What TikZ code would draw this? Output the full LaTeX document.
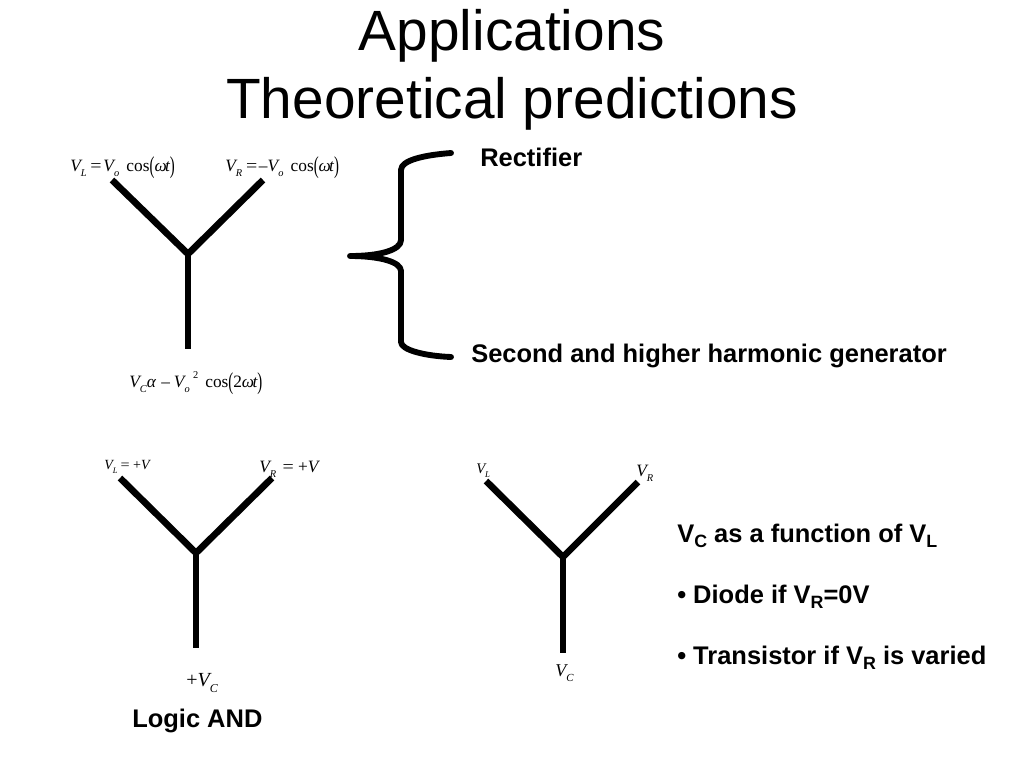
\documentclass[tikz,border=0pt]{standalone}
\usepackage{fontspec}
\setmainfont{Liberation Sans}
\newfontfamily\tms{Liberation Serif}
\newcommand{\iv}[1]{{\itshape #1}}
\newcommand{\lo}[2][0.6]{\raisebox{-0.3em}{\fontsize{#1em}{#1em}\selectfont\itshape #2}}
\newcommand{\bsub}[1]{\raisebox{-0.22em}{\fontsize{0.7em}{0.7em}\selectfont #1}}
\newcommand{\bp}[1]{\raisebox{-0.14em}{\scalebox{0.85}[1.4]{#1}}}
\newcommand{\wt}{\iv{ω\kern-0.1em t}}
\newcommand{\eqs}{\kern0.22em\scalebox{1.15}[1]{=}\kern0.1em}
\tikzset{
 x=0.75pt,y=-0.75pt,
 wire/.style={line width=5pt,line cap=butt,line join=miter},
 brace/.style={line width=4.4pt,line cap=round,line join=round},
 title/.style={font=\fontsize{42.6pt}{48pt}\selectfont,inner sep=0pt,anchor=base},
 lab/.style={font=\fontsize{19.1pt}{22pt}\selectfont\bfseries,inner sep=0pt,anchor=base west},
 eq/.style={font=\tms\fontsize{13pt}{15pt}\selectfont,inner sep=0pt,anchor=base west},
}
\begin{document}
\begin{tikzpicture}
\useasboundingbox (0,0) rectangle (1024,768);
\node[title] (t1) at (512,50) {Applications};
\node[title] (t2) at (512,118) {Theoretical predictions};
% top Y
\coordinate (a1) at (112,180); \coordinate (a2) at (263,180); \coordinate (a3) at (188,349); \coordinate (ac) at (188,254);
\draw[wire] (a1) -- (ac) -- (a2); \draw[wire] (ac) -- (a3);
\node[eq] (e1) at (70,171) {\iv{V}\lo{L}\eqs\iv{V}\lo{o}\kern0.42em cos\bp{(}\wt\bp{)}};
\node[eq] (e2) at (225,171) {\iv{V}\lo{R}\eqs –\iv{V}\lo{o}\kern0.42em cos\bp{(}\wt\bp{)}};
\node[eq] (e3) at (129,387) {\iv{V}\lo{C}\iv{α}\kern0.32em–\kern0.22em\iv{V}\lo{o}\kern0.2em\raisebox{0.5em}{\fontsize{0.6em}{0.6em}\selectfont 2}\kern0.4em cos\bp{(}2\wt\bp{)}};
% brace
\coordinate (b0) at (350,256);
\coordinate (b1) at (451,153);
\coordinate (b2) at (451,357);
\draw[brace] (b1) .. controls (425,155) and (401,160) .. (401,170) -- (401,240) .. controls (401,250) and (380,256) .. (b0) .. controls (380,256) and (401,262) .. (401,271) -- (401,342) .. controls (401,350) and (425,356) .. (b2);
\node[lab] (r) at (480,166) {Rectifier};
\node[lab] (s) at (471,362) {Second and higher harmonic generator};
% lower left Y
\coordinate (c1) at (120,478); \coordinate (c2) at (272,478); \coordinate (c3) at (196,648); \coordinate (cc) at (196,553);
\draw[wire] (c1) -- (cc) -- (c2); \draw[wire] (cc) -- (c3);
\node[eq,font=\tms\fontsize{10.5pt}{12pt}\selectfont] (f1) at (104,469) {\iv{V}\lo{L}\eqs\kern0.15em+\iv{V}};
\node[eq] (f2) at (259,472) {\iv{V}\lo{R}\kern0.15em\eqs\kern0.15em+\iv{V}};
\node[eq,font=\tms\fontsize{15pt}{17pt}\selectfont] (f3) at (186,686) {+\iv{V}\lo{C}};
\node[lab] (l) at (132,727) {Logic AND};
% lower right Y
\coordinate (d1) at (486,481); \coordinate (d2) at (638,482); \coordinate (d3) at (563,653); \coordinate (dc) at (563,557);
\draw[wire] (d1) -- (dc) -- (d2); \draw[wire] (dc) -- (d3);
\node[eq,font=\tms\fontsize{11pt}{13pt}\selectfont] (g1) at (476,473) {\iv{V}\lo{L}};
\node[eq,font=\tms\fontsize{13pt}{15pt}\selectfont] (g2) at (636,476) {\iv{V}\lo{R}};
\node[eq,font=\tms\fontsize{13.5pt}{15pt}\selectfont] (g3) at (555,676) {\iv{V}\lo{C}};
\node[lab] (h1) at (677,542) {V\bsub{C} as a function of V\bsub{L}};
\node[lab] (h2) at (677,603) {• Diode if V\bsub{R}=0V};
\node[lab] (h3) at (677,664) {• Transistor if V\bsub{R} is varied};
\end{tikzpicture}
\end{document}
